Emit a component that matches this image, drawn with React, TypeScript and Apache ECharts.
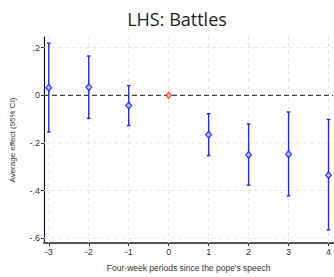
import React, { useEffect, useRef } from "react";
import * as echarts from "echarts";

const periods = [-3, -2, -1, 0, 1, 2, 3, 4];
const estimates = [0.032, 0.034, -0.043, 0, -0.165, -0.25, -0.247, -0.335];
const upperCI = [0.219, 0.165, 0.041, 0, -0.077, -0.12, -0.07, -0.101];
const lowerCI = [-0.154, -0.097, -0.127, 0, -0.253, -0.377, -0.422, -0.565];
const xTicks = [-3, -2, -1, 0, 1, 2, 3, 4];
const yTicks = [0.2, 0, -0.2, -0.4, -0.6];

const BLUE = "#2424ff";
const RED = "#ff2a2a";
const X_MIN = -3.12;
const X_MAX = 4.12;
const Y_MIN = -0.62;
const Y_MAX = 0.245;

function fmtY(v: number): string {
  const r = Math.round(v * 10) / 10;
  if (r === 0) return "0";
  const s = Math.abs(r).toString().replace(/^0/, "");
  return (r < 0 ? "-" : "") + s;
}

export default function App() {
  const ref = useRef<HTMLDivElement>(null);
  useEffect(() => {
    if (!ref.current) return;
    const chart = echarts.init(ref.current, undefined, { renderer: "svg" });
    const ciData = periods
      .map((p, i) => [p, lowerCI[i], upperCI[i]])
      .filter((d, i) => periods[i] !== 0);
    const bluePts = periods
      .map((p, i) => [p, estimates[i]])
      .filter((d) => d[0] !== 0);
    const redPts = periods
      .map((p, i) => [p, estimates[i]])
      .filter((d) => d[0] === 0);
    const gridStyle = { stroke: "#e6e6e6", lineWidth: 1, lineDash: [4, 3] };
    chart.setOption({
      animation: false,
      backgroundColor: "#ffffff",
      title: {
        text: "LHS: Battles",
        left: 172,
        textAlign: "center",
        top: 5,
        textStyle: {
          fontFamily: "Open Sans",
          fontWeight: "normal",
          fontSize: 18,
          color: "#1e1e1e",
        },
      },
      grid: { left: 42, top: 37, width: 292, height: 214 },
      xAxis: {
        type: "value",
        min: X_MIN,
        max: X_MAX,
        name: "Four-week periods since the pope's speech",
        nameLocation: "middle",
        nameGap: 20,
        nameTextStyle: { fontFamily: "Liberation Sans", fontSize: 8.5, color: "#333" },
        axisLine: { show: true, onZero: false, lineStyle: { color: "#555", width: 2 } },
        axisTick: { show: true, length: 3, customValues: xTicks, lineStyle: { color: "#333" } },
        axisLabel: {
          customValues: xTicks,
          fontFamily: "Liberation Sans",
          fontSize: 9,
          color: "#333",
          margin: 4,
        },
        splitLine: { show: false },
      },
      yAxis: {
        type: "value",
        min: Y_MIN,
        max: Y_MAX,
        name: "Average effect (95% CI)",
        nameLocation: "middle",
        nameGap: 28,
        nameTextStyle: { fontFamily: "Liberation Sans", fontSize: 8, color: "#333" },
        axisLine: { show: true, onZero: false, lineStyle: { color: "#111", width: 1.2 } },
        axisTick: { show: true, length: 3, customValues: yTicks, lineStyle: { color: "#333" } },
        axisLabel: {
          customValues: yTicks,
          formatter: (v: number) => fmtY(v),
          fontFamily: "Liberation Sans",
          fontSize: 9,
          color: "#333",
          margin: 4,
        },
        splitLine: { show: false },
      },
      series: [
        {
          type: "custom",
          data: xTicks.map((x) => [x]),
          silent: true,
          z: 1,
          clip: true,
          renderItem: (params: any, api: any) => {
            const x = api.value(0);
            const a = api.coord([x, Y_MIN]);
            const b = api.coord([x, Y_MAX]);
            return { type: "line", shape: { x1: a[0], y1: a[1], x2: b[0], y2: b[1] }, style: gridStyle };
          },
        },
        {
          type: "custom",
          data: yTicks.map((y) => [y]),
          silent: true,
          z: 1,
          renderItem: (params: any, api: any) => {
            const y = api.value(0);
            const a = api.coord([X_MIN, y]);
            const b = api.coord([X_MAX, y]);
            const zero = y === 0;
            return {
              type: "line",
              z2: zero ? 5 : 1,
              shape: { x1: a[0], y1: a[1], x2: b[0], y2: b[1] },
              style: zero
                ? { stroke: "#444", lineWidth: 1.4, lineDash: [5, 3] }
                : gridStyle,
            };
          },
          encode: { x: -1, y: 0 },
        },
        {
          type: "custom",
          data: ciData,
          silent: true,
          z: 3,
          renderItem: (params: any, api: any) => {
            const x = api.value(0);
            const lo = api.coord([x, api.value(1)]);
            const hi = api.coord([x, api.value(2)]);
            const cap = 1.8;
            const style = { stroke: BLUE, lineWidth: 1.4 };
            return {
              type: "group",
              children: [
                { type: "line", shape: { x1: lo[0], y1: lo[1], x2: hi[0], y2: hi[1] }, style },
                { type: "line", shape: { x1: lo[0] - cap, y1: lo[1], x2: lo[0] + cap, y2: lo[1] }, style },
                { type: "line", shape: { x1: hi[0] - cap, y1: hi[1], x2: hi[0] + cap, y2: hi[1] }, style },
              ],
            };
          },
        },
        {
          type: "scatter",
          data: bluePts,
          symbol: "diamond",
          symbolSize: [5.5, 6.5],
          z: 4,
          itemStyle: { color: "#e8e8ff", borderColor: BLUE, borderWidth: 1.6 },
        },
        {
          type: "scatter",
          data: redPts,
          symbol: "diamond",
          symbolSize: [5, 6],
          z: 4,
          itemStyle: { color: "#ffe0e0", borderColor: RED, borderWidth: 1.4 },
        },
      ],
    });
    return () => chart.dispose();
  }, []);
  return (
    <div
      ref={ref}
      style={{ position: "fixed", left: 0, top: 0, width: 334, height: 277 }}
    />
  );
}
